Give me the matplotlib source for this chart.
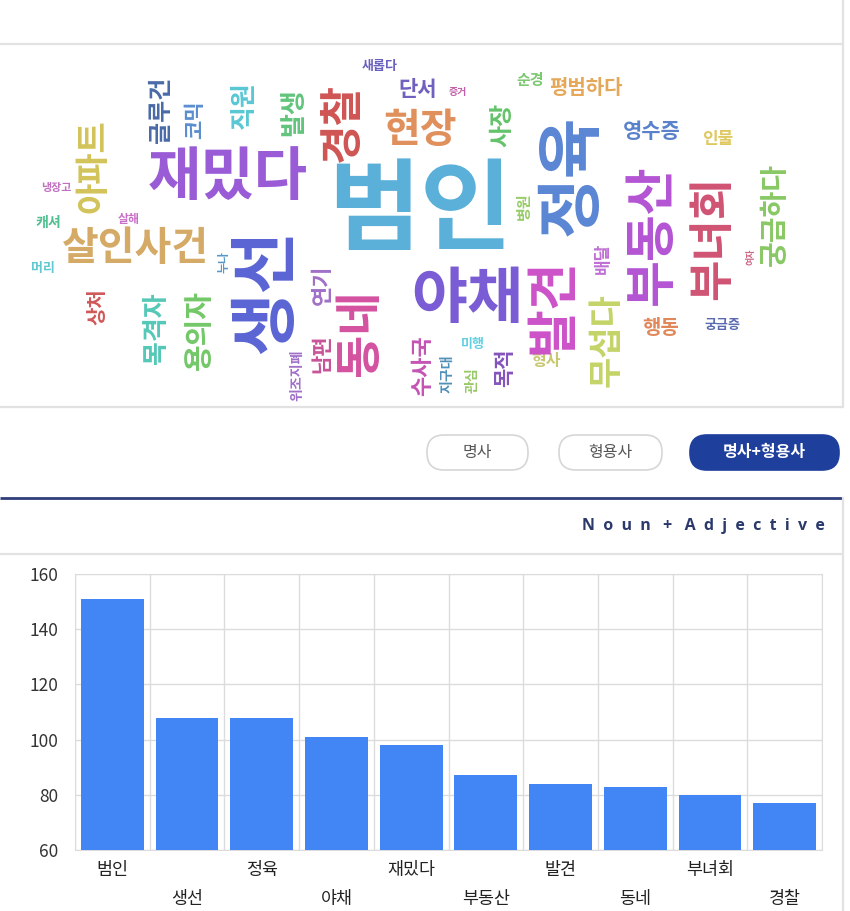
import numpy as np
import matplotlib
matplotlib.use("Agg")
import matplotlib.pyplot as plt
from matplotlib.patches import FancyBboxPatch

plt.rcParams['font.family'] = ['Noto Sans CJK KR', 'DejaVu Sans']

# ---------------- data ----------------
categories = ['범인', '생선', '정육', '야채', '재밌다', '부동산', '발견', '동네', '부녀회', '경찰']
counts = [151, 108, 108, 101, 98, 87, 84, 83, 80, 77]
y_ticks = [60, 80, 100, 120, 140, 160]

buttons = ['명사', '형용사', '명사+형용사']
panel_title = 'Noun + Adjective'

# word cloud words and their sizes (px, relative frequency)
cloud_words = ['범인', '재밌다', '야채', '살인사건', '현장', '단서', '새롭다', '증거', '순경', '평범하다',
               '영수증', '인물', '행동', '궁금증', '형사', '미행', '캐셔', '머리', '냉장고', '살해',
               '아파트', '글루건', '코믹', '직원', '발생', '경찰', '사장', '정육', '생선', '동네',
               '발견', '부동산', '부녀회', '궁금하다', '무섭다', '배달', '병원', '여자', '연기', '누나',
               '상처', '목격자', '용의자', '위조지폐', '남편', '수사국', '지구대', '관심', '목적']
cloud_sizes = [100, 58, 61, 40, 40, 21, 13, 10, 15, 20,
               21, 17, 20, 13, 16, 13, 14, 13, 11, 12,
               34, 24, 21, 26, 26, 43, 24, 66, 68, 47,
               52, 51, 45, 28, 34, 17, 15, 9, 22, 12,
               20, 26, 29, 14, 21, 22, 14, 14, 21]

# layout of the cloud (centre x, centre y in pixels, rotation, colour)
cloud_layout = [
    (420, 212, 0, '#5ab0d8'), (228, 178, 0, '#9a5cd6'), (467, 300, 0, '#7a5cd4'),
    (135, 248, 0, '#d4aa66'), (420, 130, 0, '#e0905c'), (418, 90, 0, '#7060c0'),
    (380, 66, 0, '#6a60c0'), (458, 92, 0, '#c060a8'), (530, 80, 0, '#7cc870'),
    (586, 88, 0, '#e4a858'), (652, 132, 0, '#5a82cc'), (718, 139, 0, '#e0c860'),
    (661, 328, 0, '#e0885a'), (723, 325, 0, '#5a6ab0'), (546, 361, 0, '#c8c870'),
    (473, 344, 0, '#60d0e0'), (48, 223, 0, '#50c090'), (43, 268, 0, '#60c8d0'),
    (56, 188, 0, '#c070c0'), (129, 219, 0, '#c870c8'),
    (93, 166, 90, '#d2c45a'), (161, 110, 90, '#4a6aa8'), (195, 120, 90, '#5a8ed0'),
    (244, 105, 90, '#58c8d4'), (294, 112, 90, '#62c47c'), (342, 122, 90, '#d05454'),
    (502, 125, 90, '#64c46a'), (572, 175, 90, '#5a86d4'), (268, 291, 90, '#5a64d4'),
    (360, 333, 90, '#d452a0'), (553, 306, 90, '#cc52c8'), (652, 235, 90, '#b454d4'),
    (713, 238, 90, '#d05474'), (775, 215, 90, '#88c864'), (606, 340, 90, '#c4d468'),
    (603, 258, 90, '#c070d4'), (524, 206, 90, '#98cc68'), (751, 257, 90, '#d06884'),
    (322, 285, 90, '#a070c8'), (224, 262, 90, '#5898c8'), (97, 307, 90, '#d05858'),
    (157, 328, 90, '#54c8b8'), (199, 330, 90, '#74c868'), (297, 375, 90, '#a070c8'),
    (322, 354, 90, '#c85498'), (423, 366, 90, '#c454b4'), (447, 374, 90, '#5090b8'),
    (473, 380, 90, '#98c868'), (505, 368, 90, '#8454bc'),
]

W, H, DPI = 850, 911, 100
fig = plt.figure(figsize=(W / DPI, H / DPI), dpi=DPI, facecolor='white')

# ---------------- page background / layout ----------------
bg = fig.add_axes([0, 0, 1, 1])
bg.set_xlim(0, W)
bg.set_ylim(H, 0)
bg.axis('off')

light = '#e2e2e2'
bg.plot([0, 843], [44, 44], color=light, lw=1.6, solid_capstyle='butt')
bg.plot([0, 843], [407, 407], color=light, lw=1.6, solid_capstyle='butt')
bg.plot([843, 843], [0, 407], color=light, lw=1.6)
bg.plot([0, 843], [498, 498], color='#2f3f7c', lw=2.0, solid_capstyle='butt')
bg.plot([0, 843], [554, 554], color=light, lw=1.6, solid_capstyle='butt')
bg.plot([843, 843], [498, H], color=light, lw=1.6)

# word cloud
for w, s, (x, y, rot, col) in zip(cloud_words, cloud_sizes, cloud_layout):
    bg.text(x, y, w, fontsize=s * 72 / DPI, rotation=rot, ha='center', va='center',
            color=col, fontweight='bold')

# buttons
btn_boxes = [(427, 435, 101, 35), (559, 435, 103, 35), (690, 435, 149, 35)]
for i, (label, (bx, by, bw, bh)) in enumerate(zip(buttons, btn_boxes)):
    active = i == len(buttons) - 1
    patch = FancyBboxPatch((bx, by), bw, bh,
                           boxstyle='round,pad=0,rounding_size=17',
                           facecolor='#1f3f9c' if active else 'white',
                           edgecolor='#1f3f9c' if active else '#d6d6d6', lw=1.2)
    bg.add_patch(patch)
    bg.text(bx + bw / 2, by + bh / 2, label, ha='center', va='center',
            fontsize=11.5, color='white' if active else '#555555',
            fontweight='bold' if active else 'normal')

spaced_title = '  '.join(panel_title).replace('     ', '   ')
bg.text(825, 526, spaced_title, ha='right', va='center',
        fontsize=11.5, fontweight='bold', color='#2b3a6b',
        family=['Open Sans', 'DejaVu Sans'])

# ---------------- bar chart ----------------
ax = fig.add_axes([75 / W, (H - 850) / H, 747 / W, 276 / H])
n = len(categories)
xs = np.arange(n)
ax.bar(xs, counts, width=0.84, color='#4285f4', zorder=3)
ax.set_xlim(-0.5, n - 0.5)
ax.set_ylim(y_ticks[0], y_ticks[-1])
ax.set_yticks(y_ticks)
ax.yaxis.grid(True, color='#dcdcdc', lw=1, zorder=0)
ax.vlines(np.arange(-0.5, n), y_ticks[0], y_ticks[-1], color='#dcdcdc', lw=1, zorder=0)
for sp in ax.spines.values():
    sp.set_color('#dcdcdc')
ax.tick_params(axis='y', length=0, pad=12, labelsize=12.5, labelcolor='#333333')

ax.set_xticks(xs[0::2], categories[0::2])
ax.set_xticks(xs[1::2], categories[1::2], minor=True)
ax.tick_params(axis='x', which='major', length=0, pad=8, labelsize=12.5, labelcolor='#222222')
ax.tick_params(axis='x', which='minor', length=0, pad=29, labelsize=12.5, labelcolor='#222222')

fig.savefig('out.png', dpi=DPI, facecolor='white')
